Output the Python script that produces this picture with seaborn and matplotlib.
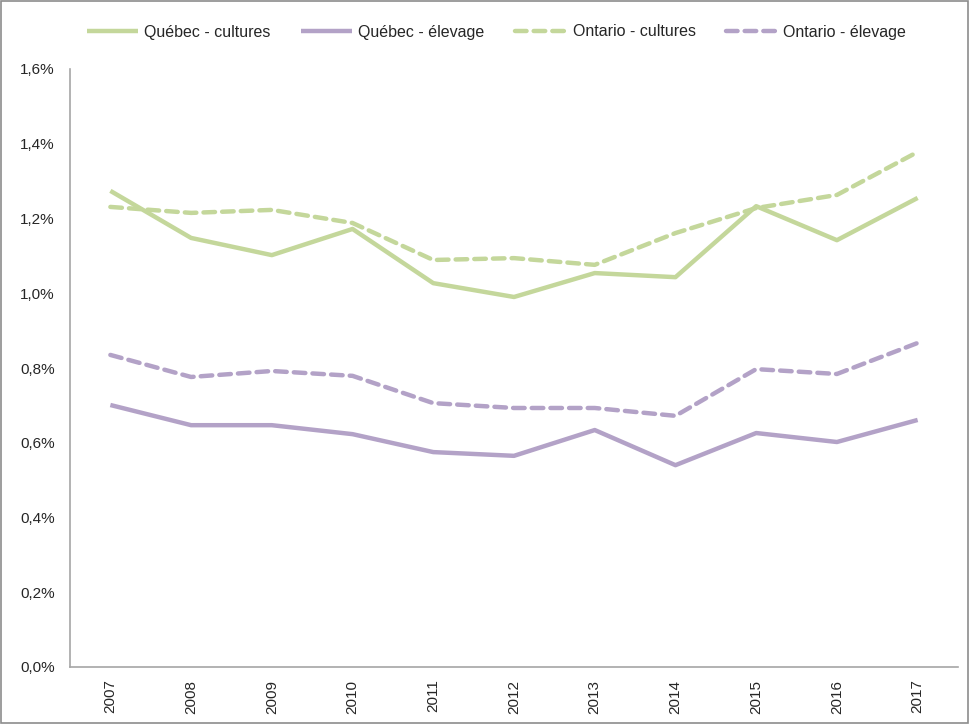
import matplotlib
matplotlib.use("Agg")
import matplotlib.pyplot as plt
import seaborn as sns
import pandas as pd
from matplotlib.patches import Rectangle

years = ["2007", "2008", "2009", "2010", "2011", "2012", "2013", "2014", "2015", "2016", "2017"]
quebec_cultures = [1.274, 1.148, 1.102, 1.172, 1.027, 0.990, 1.054, 1.043, 1.233, 1.142, 1.255]
quebec_elevage = [0.701, 0.647, 0.647, 0.623, 0.575, 0.565, 0.634, 0.540, 0.626, 0.602, 0.661]
ontario_cultures = [1.231, 1.215, 1.223, 1.188, 1.089, 1.094, 1.076, 1.161, 1.228, 1.263, 1.378]
ontario_elevage = [0.835, 0.776, 0.792, 0.779, 0.706, 0.693, 0.693, 0.672, 0.797, 0.784, 0.867]
y_ticks = [0.0, 0.2, 0.4, 0.6, 0.8, 1.0, 1.2, 1.4, 1.6]

series = [
    ("Québec - cultures", quebec_cultures, "#c4d79b", "-"),
    ("Québec - élevage", quebec_elevage, "#b3a2c7", "-"),
    ("Ontario - cultures", ontario_cultures, "#c4d79b", "--"),
    ("Ontario - élevage", ontario_elevage, "#b3a2c7", "--"),
]

sns.set_style("white")
plt.rcParams["font.family"] = ["Liberation Sans", "DejaVu Sans"]

fig = plt.figure(figsize=(9.69, 7.24), dpi=100)
ax = fig.add_axes([70 / 969, 1 - 667 / 724, (958 - 70) / 969, (667 - 69) / 724])

pos = list(range(len(years)))
for name, vals, col, ls in series:
    df = pd.DataFrame({"x": pos, "y": vals})
    sns.lineplot(data=df, x="x", y="y", ax=ax, color=col, linewidth=3.2,
                 label=name, sort=False)
    line = ax.lines[-1]
    line.set_linestyle(ls)
    if ls == "--":
        line.set_dashes([2.6, 1.6])
        line.set_dash_capstyle("round")
    line.set_solid_capstyle("butt")

ax.set_xlim(-0.5, len(years) - 0.5)
ax.set_ylim(0, 1.6)
ax.set_xticks(pos)
ax.set_xticklabels(years, rotation=90, fontsize=11)
ax.set_yticks(y_ticks)
ax.set_yticklabels([f"{v:.1f}%".replace(".", ",") for v in y_ticks], fontsize=11)
ax.set_xlabel("")
ax.set_ylabel("")
ax.tick_params(axis="both", length=0)
ax.tick_params(axis="x", pad=9)
ax.tick_params(axis="y", pad=11)
for s in ["top", "right"]:
    ax.spines[s].set_visible(False)
for s in ["left", "bottom"]:
    ax.spines[s].set_color("#a6a6a6")
    ax.spines[s].set_linewidth(1.2)

leg = ax.legend(loc="center", bbox_to_anchor=(496.5 / 969, 1 - 32 / 724), bbox_transform=fig.transFigure,
                ncol=4, frameon=False, fontsize=11.5, handlelength=3.2, handletextpad=0.4,
                columnspacing=1.9)
for h in leg.get_lines():
    if h.get_linestyle() == "--":
        h.set_dashes([2.6, 1.6])

fig.patches.append(Rectangle((0.001, 0.001), 0.998, 0.998, transform=fig.transFigure,
                             fill=False, edgecolor="#8c8c8c", linewidth=1.2))

fig.savefig("out.png", dpi=100)
